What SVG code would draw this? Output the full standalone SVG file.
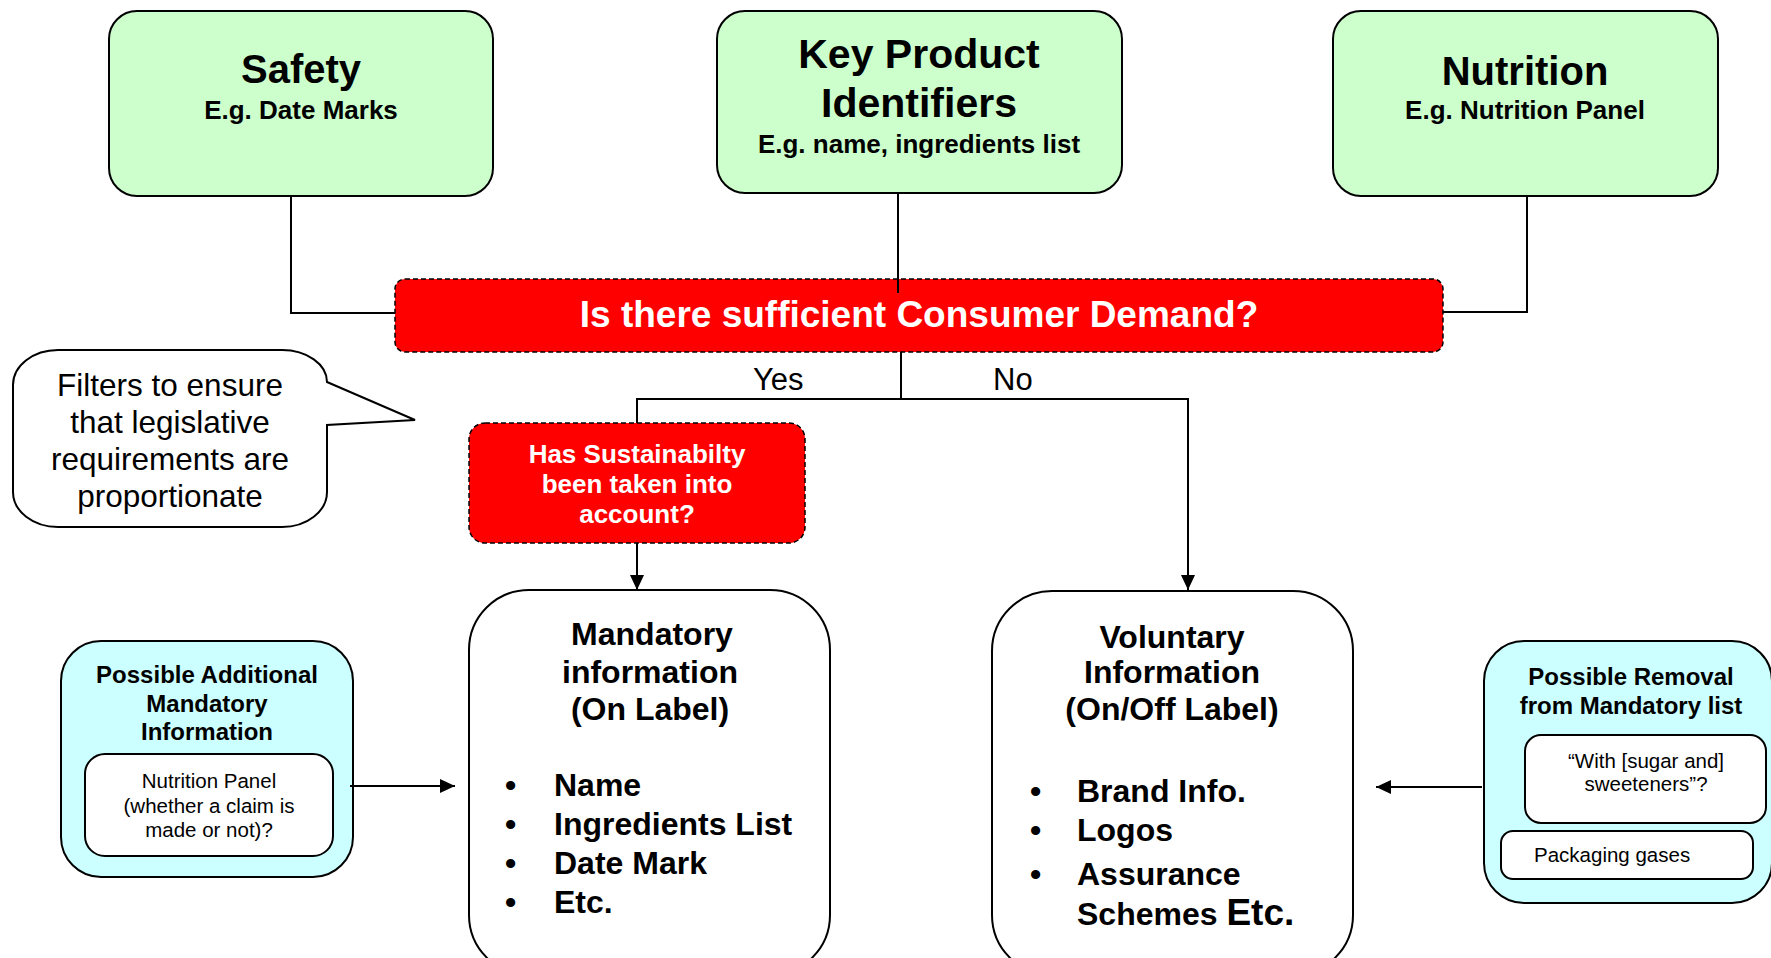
<svg xmlns="http://www.w3.org/2000/svg" width="1771" height="958" viewBox="0 0 1771 958">
<defs>
<style>
text{font-family:"Liberation Sans",Arial,sans-serif;fill:#000}
.b{font-weight:bold}
.c{text-anchor:middle}
.w{fill:#fff}
.green{fill:#CCFFCC;stroke:#000;stroke-width:2}
.red{fill:#FF0000;stroke:#000;stroke-width:1.5;stroke-dasharray:5 3}
.cyan{fill:#CCFFFF;stroke:#000;stroke-width:2}
.white{fill:#fff;stroke:#000;stroke-width:2}
.ln{fill:none;stroke:#000;stroke-width:2}
</style>
<marker id="ah" markerUnits="userSpaceOnUse" markerWidth="16" markerHeight="14" refX="15" refY="7" orient="auto">
<path d="M0,0 L15,7 L0,14 Z" fill="#000"/>
</marker>
</defs>
<rect width="1771" height="958" fill="#fff"/>

<g id="safety">
<rect class="green" x="109" y="11" width="384" height="185" rx="28"/>
<text class="b c" x="301" y="83" font-size="40">Safety</text>
<text class="b c" x="301" y="119" font-size="26">E.g. Date Marks</text>
</g>
<g id="key-product">
<rect class="green" x="717" y="11" width="405" height="182" rx="28"/>
<text class="b c" x="919" y="68" font-size="41">Key Product</text>
<text class="b c" x="919" y="117" font-size="41">Identifiers</text>
<text class="b c" x="919" y="153" font-size="26">E.g. name, ingredients list</text>
</g>
<g id="nutrition">
<rect class="green" x="1333" y="11" width="385" height="185" rx="28"/>
<text class="b c" x="1525" y="85" font-size="40">Nutrition</text>
<text class="b c" x="1525" y="119" font-size="26">E.g. Nutrition Panel</text>
</g>
<g id="demand">
<rect class="red" x="395" y="279" width="1048" height="73" rx="10"/>
<text class="b c w" x="919" y="327" font-size="37">Is there sufficient Consumer Demand?</text>
</g>
<g id="callout">
<path class="white" d="M58,350 H282 A45 32 0 0 1 327 382 L415 420 L327 425 V492 A45 35 0 0 1 282 527 H58 A45 35 0 0 1 13 492 V385 A45 35 0 0 1 58 350 Z"/>
<text class="c" x="170" y="396" font-size="31.5">Filters to ensure</text>
<text class="c" x="170" y="433" font-size="31.5">that legislative</text>
<text class="c" x="170" y="470" font-size="31.5">requirements are</text>
<text class="c" x="170" y="507" font-size="31.5">proportionate</text>
</g>
<g id="sustainability">
<rect class="red" x="469" y="423" width="336" height="120" rx="16"/>
<text class="b c w" x="637" y="463" font-size="26">Has Sustainabilty</text>
<text class="b c w" x="637" y="493" font-size="26">been taken into</text>
<text class="b c w" x="637" y="523" font-size="26">account?</text>
</g>
<g id="mandatory">
<rect class="white" x="469" y="590" width="361" height="385" rx="60"/>
<text class="b c" x="652" y="645" font-size="32">Mandatory</text>
<text class="b c" x="650" y="683" font-size="32">information</text>
<text class="b c" x="650" y="720" font-size="32">(On Label)</text>
<g font-size="32" class="b">
<text x="505" y="796">•</text><text x="554" y="796">Name</text>
<text x="505" y="835">•</text><text x="554" y="835">Ingredients List</text>
<text x="505" y="874">•</text><text x="554" y="874">Date Mark</text>
<text x="505" y="913">•</text><text x="554" y="913">Etc.</text>
</g>
</g>
<g id="voluntary">
<rect class="white" x="992" y="591" width="361" height="384" rx="60"/>
<text class="b c" x="1172" y="648" font-size="32">Voluntary</text>
<text class="b c" x="1172" y="683" font-size="32">Information</text>
<text class="b c" x="1172" y="720" font-size="32">(On/Off Label)</text>
<g font-size="32" class="b">
<text x="1030" y="802">•</text><text x="1077" y="802">Brand Info.</text>
<text x="1030" y="841">•</text><text x="1077" y="841">Logos</text>
<text x="1030" y="885">•</text><text x="1077" y="885">Assurance</text>
<text x="1077" y="925">Schemes <tspan font-size="37">Etc.</tspan></text>
</g>
</g>
<g id="additional">
<rect class="cyan" x="61" y="641" width="292" height="236" rx="40"/>
<text class="b c" x="207" y="683" font-size="24">Possible Additional</text>
<text class="b c" x="207" y="712" font-size="24">Mandatory</text>
<text class="b c" x="207" y="740" font-size="24">Information</text>
<rect class="white" x="85" y="754" width="248" height="102" rx="20"/>
<text class="c" x="209" y="788" font-size="20.5">Nutrition Panel</text>
<text class="c" x="209" y="813" font-size="20.5">(whether a claim is</text>
<text class="c" x="209" y="837" font-size="20.5">made or not)?</text>
</g>
<g id="removal">
<rect class="cyan" x="1484" y="641" width="288" height="262" rx="40"/>
<text class="b c" x="1631" y="685" font-size="24">Possible Removal</text>
<text class="b c" x="1631" y="714" font-size="24">from Mandatory list</text>
<rect class="white" x="1525" y="735" width="241" height="88" rx="16"/>
<text class="c" x="1646" y="768" font-size="20.5">“With [sugar and]</text>
<text class="c" x="1646" y="791" font-size="20.5">sweeteners”?</text>
<rect class="white" x="1501" y="831" width="252" height="48" rx="12"/>
<text x="1534" y="862" font-size="20.5">Packaging gases</text>
</g>

<g id="connectors">
<polyline class="ln" points="291,196 291,313 395,313"/>
<line class="ln" x1="898" y1="193" x2="898" y2="293"/>
<polyline class="ln" points="1527,196 1527,312 1443,312"/>
<line class="ln" x1="901" y1="352" x2="901" y2="399"/>
<polyline class="ln" points="637,423 637,399 1188,399 1188,590" marker-end="url(#ah)"/>
<line class="ln" x1="637" y1="543" x2="637" y2="590" marker-end="url(#ah)"/>
<line class="ln" x1="350" y1="786" x2="455" y2="786" marker-end="url(#ah)"/>
<line class="ln" x1="1482" y1="787" x2="1376" y2="787" marker-end="url(#ah)"/>
<text x="753" y="390" font-size="31">Yes</text>
<text x="993" y="390" font-size="31">No</text>
</g>
</svg>
